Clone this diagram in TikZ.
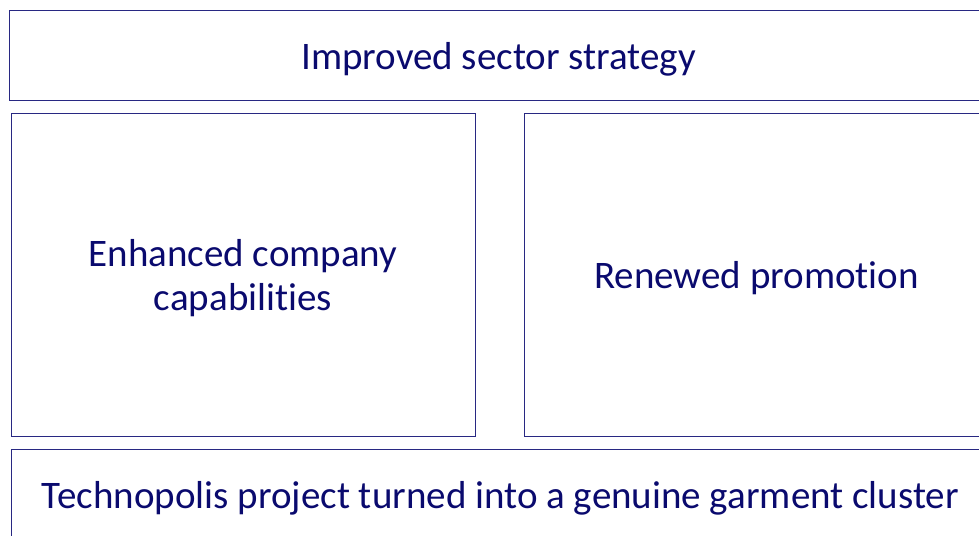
\documentclass[tikz,border=0pt]{standalone}
\usepackage{fontspec}
\setmainfont{Carlito}[Ligatures={NoCommon}]
\usepackage{tikz}
\usetikzlibrary{positioning}

\definecolor{navyline}{RGB}{40,40,130}
\definecolor{navytext}{RGB}{10,10,110}

\tikzset{
    panel/.style={draw=navyline, line width=0.9pt, align=center, inner sep=0pt},
    label/.style={text=navytext, align=center, font=\fontsize{39}{44}\selectfont},
}

\begin{document}
\begin{tikzpicture}[x=1pt, y=-1pt]
                \useasboundingbox (0,0) rectangle (979,535);
                \clip (0,0) rectangle (979,535);

                % Top level
                \node[panel, minimum width=979pt, minimum height=90pt] (strategy) at (498.5,55) {};
                \node[label] (strategytext) at (498.5,59.5) {Improved sector strategy};

                % Middle row
                \node[panel, minimum width=464pt, minimum height=323pt] (capabilities) at (243,274.5) {};
                \node[label] (capabilitiestext) at (243,278.5) {Enhanced company\\capabilities};
                \node[panel, minimum width=465pt, minimum height=323pt] (promotion) at (756.5,274.5) {};
                \node[label] (promotiontext) at (756.5,278.5) {Renewed promotion};

                % Base
                \node[panel, minimum width=979pt, minimum height=92pt] (cluster) at (500.5,495) {};
                \node[label] (clustertext) at (500.5,498.5) {Technopolis project turned into a genuine garment cluster};
            \end{tikzpicture}
\end{document}
